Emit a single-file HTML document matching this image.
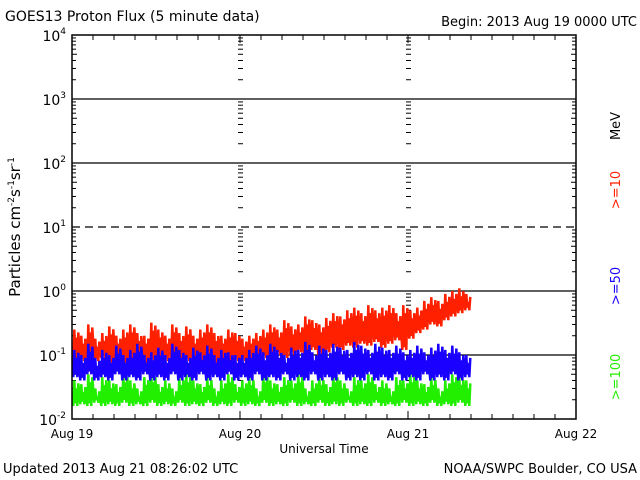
<!DOCTYPE html>
<html><head><meta charset="utf-8"><style>
body{margin:0;background:#fff;}
svg{display:block;font-family:"DejaVu Sans","Liberation Sans",sans-serif;}
</style></head><body>
<svg id="c" width="640" height="480" viewBox="0 0 640 480">
<text x="5" y="21" font-size="14">GOES13 Proton Flux (5 minute data)</text>
<text x="637" y="26" font-size="13" text-anchor="end">Begin: 2013 Aug 19 0000 UTC</text>
<text transform="translate(20,227) rotate(-90)" font-size="15" text-anchor="middle">Particles cm<tspan font-size="9" dy="-6">-2</tspan><tspan dy="6">s</tspan><tspan font-size="9" dy="-6">-1</tspan><tspan dy="6">sr</tspan><tspan font-size="9" dy="-6">-1</tspan></text>
<text transform="translate(620,126) rotate(-90)" font-size="13" text-anchor="middle">MeV</text>
<text transform="translate(620,190) rotate(-90)" font-size="13" fill="#ff2000" text-anchor="middle">&gt;=10</text>
<text transform="translate(620,286) rotate(-90)" font-size="13" fill="#1a00ff" text-anchor="middle">&gt;=50</text>
<text transform="translate(620,377) rotate(-90)" font-size="13" fill="#22ee00" text-anchor="middle">&gt;=100</text>
<text x="324" y="453" font-size="12" text-anchor="middle">Universal Time</text>
<text x="3" y="473" font-size="13">Updated 2013 Aug 21 08:26:02 UTC</text>
<text x="637" y="473" font-size="13" text-anchor="end">NOAA/SWPC Boulder, CO USA</text>
<g id="g"></g>
</svg>
<script>
const dayLabels=["Aug 19","Aug 20","Aug 21","Aug 22"];
const decades=[-2,-1,0,1,2,3,4];
const redHi=[.25,.2,.3,.18,.22,.28,.2,.25,.3,.22,.2,.32,.25,.2,.3,.22,.28,.2,.25,.3,.22,.2,.25,.22,.18,.2,.22,.25,.3,.25,.35,.28,.3,.4,.35,.3,.38,.45,.4,.5,.55,.45,.6,.5,.55,.6,.45,.6,.5,.55,.7,.8,.7,.9,1.0,1.1,0.9];
const redLo=[.07,.08,.07,.08,.09,.07,.08,.07,.08,.09,.07,.08,.07,.08,.09,.07,.08,.07,.08,.09,.07,.08,.07,.08,.08,.07,.08,.09,.08,.1,.09,.1,.11,.1,.12,.1,.11,.13,.12,.14,.13,.15,.14,.16,.13,.15,.17,.12,.18,.22,.25,.3,.28,.35,.4,.45,.5];
const blueHi=[.12,.1,.15,.09,.12,.1,.14,.1,.12,.15,.1,.11,.13,.1,.15,.12,.1,.13,.11,.14,.1,.12,.11,.1,.1,.12,.14,.11,.15,.12,.1,.13,.12,.16,.11,.14,.12,.15,.13,.12,.16,.14,.12,.15,.13,.12,.14,.11,.12,.14,.11,.13,.15,.12,.14,.11,.1];
const blueLo=[.045,.04,.05,.04,.045,.04,.05,.04,.045,.04,.05,.04,.045,.04,.05,.04,.045,.04,.05,.04,.045,.04,.05,.04,.045,.04,.05,.04,.045,.04,.05,.04,.045,.04,.05,.04,.045,.04,.05,.04,.045,.04,.05,.04,.045,.04,.05,.04,.045,.04,.05,.04,.045,.04,.05,.04,.045];
const greenHi=[.04,.035,.05,.03,.045,.04,.035,.05,.04,.03,.045,.05,.035,.04,.03,.045,.05,.04,.035,.045,.03,.04,.05,.035,.04,.045,.03,.05,.04,.035,.045,.04,.05,.03,.04,.045,.035,.05,.04,.03,.045,.04,.05,.035,.04,.03,.045,.04,.05,.04,.035,.045,.03,.04,.05,.045,.04];
const greenLo=[.016,.017,.016,.018,.016,.017,.016,.018,.016,.017,.016,.018,.016,.017,.016,.018,.016,.017,.016,.018,.016,.017,.016,.018,.016,.017,.016,.018,.016,.017,.016,.018,.016,.017,.016,.018,.016,.017,.016,.018,.016,.017,.016,.018,.016,.017,.016,.018,.016,.017,.016,.018,.016,.017,.016,.018,.016];
const X0=72,X1=576,Y0=35,Y1=419,DW=(X1-X0)/3;
const xs=h=>X0+h/24*DW;
const ys=v=>Y1-(Math.log10(v)+2)*64;
const g=document.getElementById('g');const NS="http://www.w3.org/2000/svg";
function mk(t,a,p){const e=document.createElementNS(NS,t);for(const k in a)e.setAttribute(k,a[k]);(p||g).appendChild(e);return e;}
function series(hi,lo,col,name){let pts=[];for(let i=0;i<hi.length;i++){const x=xs(i+0.5);pts.push((x-2.2)+","+ys(lo[i]));pts.push((x-1.2)+","+ys(hi[i]));pts.push((x-0.2)+","+ys(lo[i]*1.1));pts.push((x+0.8)+","+ys(hi[i]*0.75));pts.push((x+1.8)+","+ys(lo[i]));pts.push((x+2.8)+","+ys(hi[i]*0.9));}
const e=mk('polyline',{points:pts.join(' '),fill:'none',stroke:col,'stroke-width':2.5});

}
decades.forEach(d=>{if(d>-2&&d<4){const y=ys(Math.pow(10,d));const l=mk('line',{x1:X0,x2:X1,y1:y,y2:y,stroke:'#000','stroke-width':1.3,'stroke-dasharray':d===1?'8,5':'none'});

}
const t=mk('text',{x:X0-6,y:ys(Math.pow(10,d))+6,'font-size':14,'text-anchor':'end'});t.innerHTML='10<tspan font-size="9" dy="-7">'+d+'</tspan>';


if(d<4){for(let m=2;m<10;m++){const y=ys(m*Math.pow(10,d));const L=m===5?5:4;
[X0,X1].forEach(bx=>mk('line',{x1:bx,x2:bx+(bx===X0?L:-L),y1:y,y2:y,stroke:'#000'}));
[1,2].forEach(k=>mk('line',{x1:xs(24*k)-2,x2:xs(24*k)+3,y1:y,y2:y,stroke:'#000'}));}}});
for(let h=0;h<=72;h+=3){const x=xs(h);const L=h%24===0?8:5;mk('line',{x1:x,x2:x,y1:Y1,y2:Y1-L,stroke:'#000'});mk('line',{x1:x,x2:x,y1:Y0,y2:Y0+L,stroke:'#000'});}
dayLabels.forEach((s,i)=>{const t=mk('text',{x:xs(24*i),y:438,'font-size':12,'text-anchor':'middle'});t.textContent=s;

});
series(redHi,redLo,'#ff2000','series-10mev');
series(greenHi,greenLo,'#22ee00','series-100mev');
series(blueHi,blueLo,'#1a00ff','series-50mev');
const fr=mk('rect',{x:X0,y:Y0,width:X1-X0,height:Y1-Y0,fill:'none',stroke:'#000','stroke-width':1.5});


</script>
</body></html>
